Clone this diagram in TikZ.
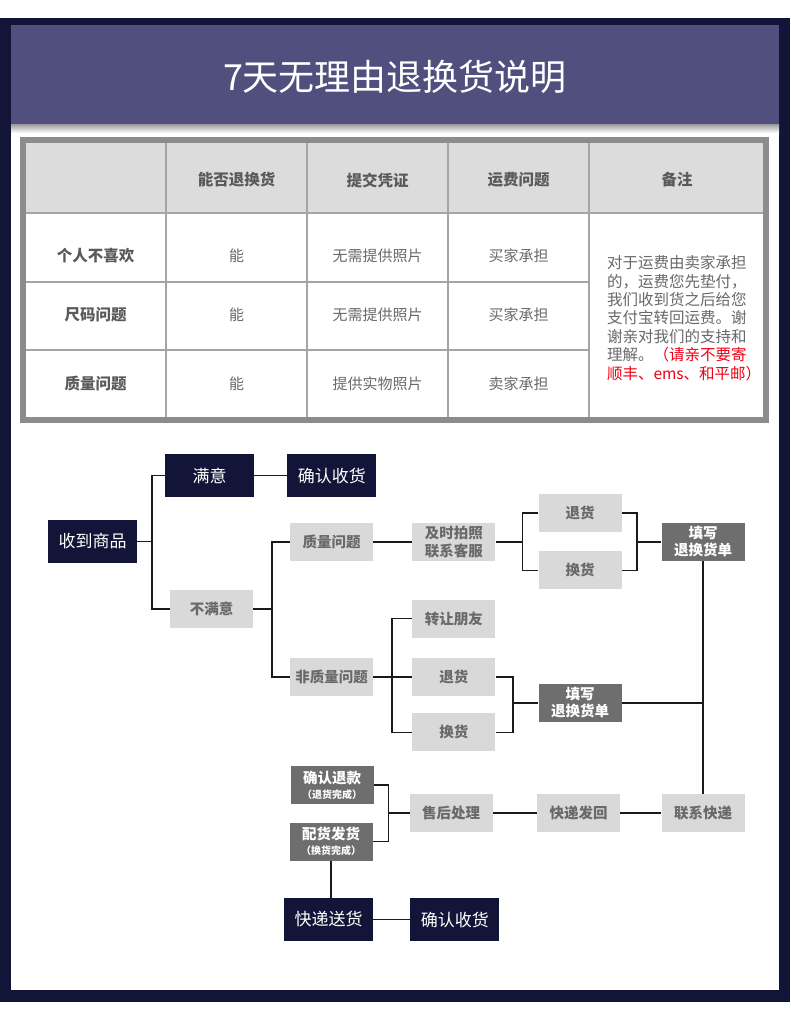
\documentclass[tikz,border=0pt]{standalone}
\usepackage{fontspec}
\setmainfont{Noto Sans CJK SC}
\usepackage{xcolor}
\usetikzlibrary{positioning}

\definecolor{navy}{RGB}{19,21,56}
\definecolor{banner}{RGB}{81,79,126}
\definecolor{boxgray}{RGB}{217,217,217}
\definecolor{formgray}{RGB}{110,110,110}
\definecolor{labelgray}{RGB}{105,105,105}
\definecolor{headgray}{RGB}{220,220,220}
\definecolor{framegray}{RGB}{140,140,140}
\definecolor{gridgray}{RGB}{165,165,165}
\definecolor{tabletext}{RGB}{90,90,90}
\definecolor{notered}{RGB}{240,0,20}
\definecolor{linkcol}{RGB}{25,25,30}

\begin{document}
\begin{tikzpicture}[x=1pt,y=-1pt,
  darkbox/.style={fill=navy,text=white,inner sep=0pt,minimum width=89pt,minimum height=43pt,font=\fontsize{17}{20}\selectfont},
  lightbox/.style={fill=boxgray,text=labelgray,inner sep=0pt,minimum width=83pt,minimum height=38pt,align=center,font=\bfseries\fontsize{14.5}{18.5}\selectfont},
  formbox/.style={lightbox,fill=formgray,text=white,font=\bfseries\fontsize{14.5}{17}\selectfont},
  tagfont/.style={font=\bfseries\fontsize{10}{12}\selectfont},
  thead/.style={text=tabletext,font=\bfseries\fontsize{15.5}{18}\selectfont},
  rowhead/.style={thead},
  cell/.style={text=labelgray,font=\fontsize{15}{18}\selectfont},
  note/.style={text=labelgray,align=left,text width=148pt,inner sep=0pt,font=\fontsize{15.5}{18.4}\selectfont},
  link/.style={draw=linkcol,line width=1.7pt},
  gridline/.style={draw=gridgray,line width=2.2pt}
]
\useasboundingbox (0,0) rectangle (790,1012);

% Frame and banner
\fill[navy] (0,18) rectangle (790,1002);
\fill[white] (11,25) rectangle (779,990);
\fill[banner] (11,25) rectangle (779,124);
\shade[top color=black!40,bottom color=white] (11,124) rectangle (779,133);
\node[text=white,font=\fontsize{36}{40}\selectfont] (title) at (395,77) {7天无理由退换货说明};

% Table
\fill[headgray] (23,140) rectangle (766,213);
\draw[gridline] (166,140) -- (166,420);
\draw[gridline] (307,140) -- (307,420);
\draw[gridline] (448,140) -- (448,420);
\draw[gridline] (589,140) -- (589,420);
\draw[gridline,line width=2.8pt] (23,213) -- (766,213);
\draw[gridline] (23,282) -- (589,282);
\draw[gridline] (23,350) -- (589,350);
\draw[draw=framegray,line width=6pt] (23,140) rectangle (766,420);

\node[thead] (hcan) at (236.5,180) {能否退换货};
\node[thead] (hproof) at (377.5,180) {提交凭证};
\node[thead] (hfee) at (518.5,180) {运费问题};
\node[thead] (hnote) at (677,180) {备注};

\node[rowhead] (rdislike) at (95.5,256) {个人不喜欢};
\node[cell] (can1) at (236.5,256) {能};
\node[cell] (proof1) at (377.5,256) {无需提供照片};
\node[cell] (fee1) at (518.5,256) {买家承担};

\node[rowhead] (rsize) at (95.5,315) {尺码问题};
\node[cell] (can2) at (236.5,315) {能};
\node[cell] (proof2) at (377.5,315) {无需提供照片};
\node[cell] (fee2) at (518.5,315) {买家承担};

\node[rowhead] (rquality) at (95.5,384) {质量问题};
\node[cell] (can3) at (236.5,384) {能};
\node[cell] (proof3) at (377.5,384) {提供实物照片};
\node[cell] (fee3) at (518.5,384) {卖家承担};

\node[note] (remark) at (681,318) {对于运费由卖家承担\\的，运费您先垫付，\\我们收到货之后给您\\支付宝转回运费。谢\\谢亲对我们的支持和\\理解。{\color{notered}（请亲不要寄}\\{\color{notered}顺丰、ems、和平邮）}};

% Flow: received goods
\node[darkbox] (recv) at (92.5,541.5) {收到商品};
\node[darkbox] (ok) at (209.5,475.5) {满意};
\node[darkbox,right=33pt of ok] (okdone) {确认收货};
\node[lightbox] (notok) at (211.5,609) {不满意};

% Flow: quality problem
\node[lightbox] (quality) at (331.5,542) {质量问题};
\node[lightbox,right=39pt of quality] (photo) {及时拍照\\联系客服};
\node[lightbox] (qret) at (580,513) {退货};
\node[lightbox,below=19pt of qret] (qexch) {换货};
\node[formbox] (qform) at (703,542) {填写\\退换货单};

% Flow: non-quality problem
\node[lightbox] (nonq) at (331.5,677) {非质量问题};
\node[lightbox,right=39pt of nonq] (nret) {退货};
\node[lightbox,above=20pt of nret] (friend) {转让朋友};
\node[lightbox,below=17pt of nret] (nexch) {换货};
\node[formbox] (nform) at (580,703) {填写\\退换货单};

% Flow: return shipping
\node[lightbox] (courier) at (703,813) {联系快递};
\node[lightbox,left=41pt of courier] (sendback) {快递发回};
\node[lightbox,left=44pt of sendback] (after) {售后处理};
\node[formbox] (refund) at (332,785) {确认退款\\[-2pt]{\bfseries\fontsize{10}{12}\selectfont （退货完成）}};
\node[formbox] (ship) at (331,841.5) {配货发货\\[-2pt]{\bfseries\fontsize{10}{12}\selectfont （换货完成）}};
\node[darkbox] (deliver) at (328.5,919.5) {快递送货};
\node[darkbox,right=37pt of deliver] (done) {确认收货};

% Connectors
\draw[link] (recv.east) -- ++(15,0) coordinate (jrecv);
\draw[link] (ok.west) -| (jrecv) |- (notok.west);
\draw[link] (ok) -- (okdone);
\draw[link] (notok.east) -- ++(19,0) coordinate (jnotok);
\draw[link] (quality.west) -| (jnotok) |- (nonq.west);

\draw[link] (quality) -- (photo);
\draw[link] (photo.east) -- ++(27,0) coordinate (jphoto);
\draw[link] (qret.west) -| (jphoto) |- (qexch.west);
\coordinate (jq) at ([xshift=-24pt]qform.west);
\draw[link] (qret.east) -| (jq) |- (qexch.east);
\draw[link] (jq) -- (qform.west);
\draw[link] (qform) -- (courier);

\draw[link] (nonq) -- (nret);
\coordinate (jnonq) at ([xshift=19pt]nonq.east);
\draw[link] (friend.west) -| (jnonq) |- (nexch.west);
\coordinate (jn) at ([xshift=-25pt]nform.west);
\draw[link] (nret.east) -| (jn) |- (nexch.east);
\draw[link] (jn) -- (nform.west);
\draw[link] (nform.east) -- (nform.east -| courier.north);

\draw[link] (courier) -- (sendback);
\draw[link] (sendback) -- (after);
\coordinate (jafter) at ([xshift=-21pt]after.west);
\draw[link] (refund.east) -| (jafter) |- (ship.east);
\draw[link] (jafter) -- (after.west);
\draw[link] (ship.south) -- (ship.south |- deliver.north);
\draw[link] (deliver) -- (done);

\end{tikzpicture}
\end{document}
